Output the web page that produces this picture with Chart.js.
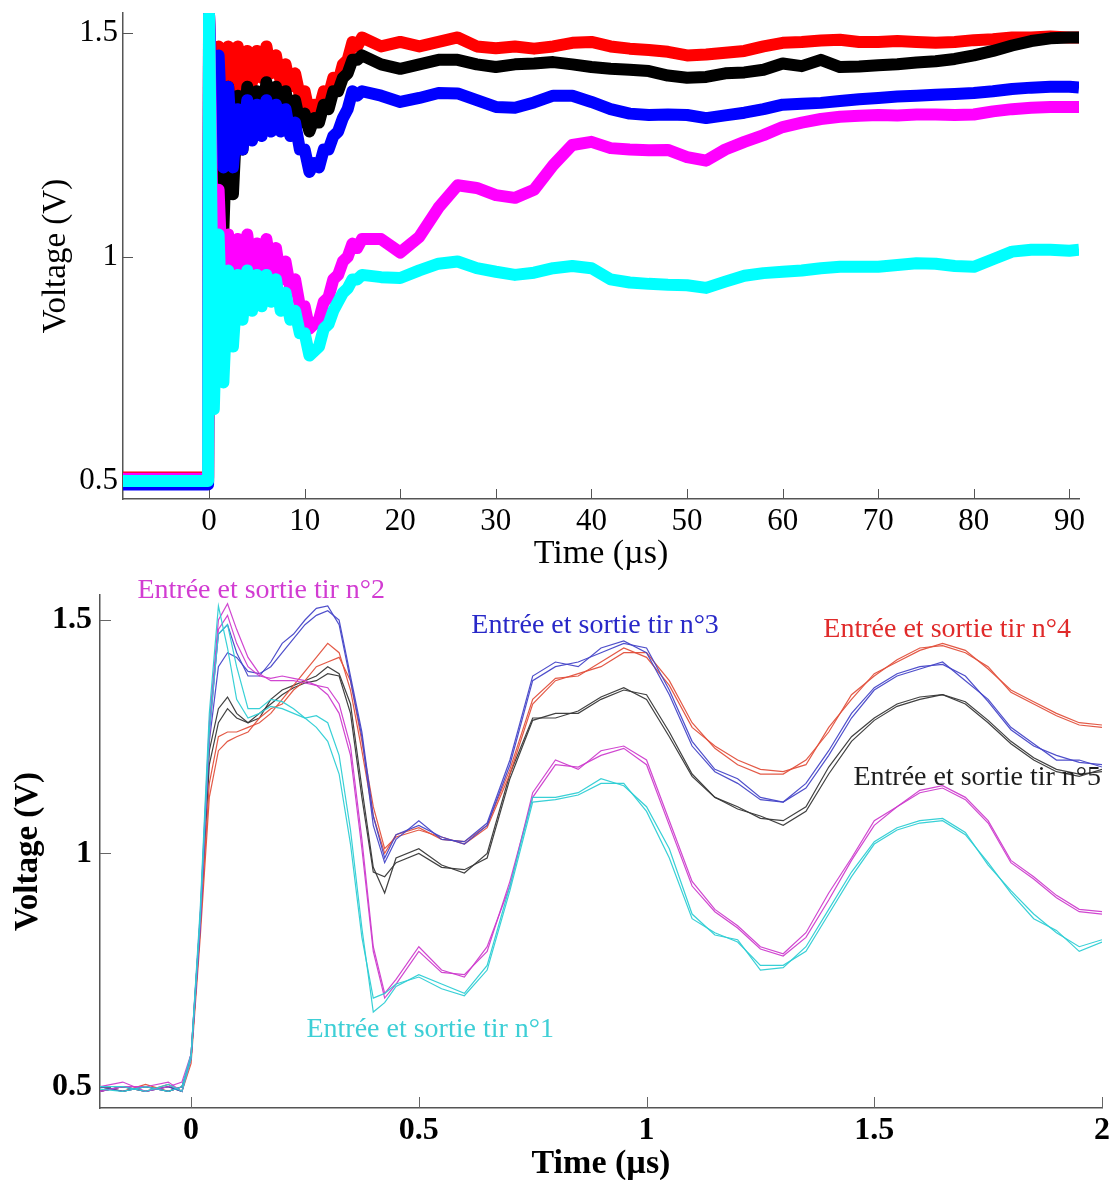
<!DOCTYPE html>
<html><head><meta charset="utf-8">
<script src="https://cdn.jsdelivr.net/npm/chart.js@4.4.0/dist/chart.umd.min.js"></script>
<style>
html,body{margin:0;padding:0;background:#fff;}
#wrap{position:relative;width:1117px;height:1180px;overflow:hidden;background:#fff;}
#c1{position:absolute;left:0;top:0;}
#c2{position:absolute;left:0;top:570px;}
</style></head><body>
<div id="wrap"><canvas id="c1" width="1117" height="570"></canvas><canvas id="c2" width="1117" height="610"></canvas></div>
<script>
// ---------- TOP PANEL DATA (time in µs, voltage in V) ----------
const TOP_T = [-9,-8,-7,-6,-5,-4,-3,-2,-1,-0.1,
  0,0.5,1,1.5,2,2.5,3,3.5,4,4.5,5,5.5,6,6.5,7,7.5,8,8.5,9,9.5,10,10.5,11,11.5,12,12.5,13,13.5,14,14.5,15,15.5,16,
  18,20,22,24,26,28,30,32,34,36,38,40,42,44,46,48,50,52,54,56,58,60,62,64,66,68,70,72,74,76,78,80,82,84,86,88,90,91];
const TOP_RED = [0.508,0.508,0.508,0.508,0.508,0.508,0.508,0.508,0.508,0.508,
  1.54,1.20,1.47,1.17,1.47,1.30,1.47,1.36,1.46,1.39,1.46,1.40,1.47,1.41,1.45,1.39,1.43,1.38,1.41,1.36,1.37,1.32,1.34,1.33,1.37,1.36,1.40,1.39,1.43,1.44,1.48,1.47,1.49,
  1.47,1.48,1.47,1.48,1.49,1.47,1.466,1.47,1.465,1.47,1.478,1.48,1.47,1.465,1.462,1.458,1.45,1.452,1.456,1.46,1.47,1.478,1.48,1.483,1.485,1.48,1.48,1.482,1.48,1.478,1.48,1.484,1.486,1.49,1.49,1.492,1.49,1.49];
const TOP_BLACK = [0.498,0.498,0.498,0.498,0.498,0.498,0.498,0.498,0.498,0.498,
  1.50,1.10,1.40,1.06,1.38,1.14,1.36,1.24,1.38,1.28,1.37,1.30,1.39,1.32,1.38,1.31,1.37,1.31,1.35,1.30,1.32,1.28,1.31,1.30,1.34,1.33,1.37,1.37,1.40,1.41,1.44,1.44,1.45,
  1.43,1.42,1.43,1.44,1.44,1.43,1.424,1.43,1.432,1.435,1.43,1.424,1.42,1.418,1.415,1.405,1.40,1.402,1.41,1.412,1.418,1.432,1.426,1.44,1.424,1.425,1.428,1.43,1.434,1.437,1.442,1.45,1.46,1.472,1.482,1.488,1.49,1.49];
const TOP_BLUE = [0.492,0.492,0.492,0.492,0.492,0.492,0.492,0.492,0.492,0.492,
  1.54,1.25,1.45,1.20,1.38,1.20,1.33,1.24,1.35,1.26,1.34,1.27,1.35,1.28,1.34,1.28,1.33,1.27,1.30,1.24,1.24,1.19,1.21,1.20,1.24,1.24,1.27,1.28,1.31,1.33,1.37,1.36,1.37,
  1.36,1.346,1.355,1.366,1.365,1.35,1.335,1.333,1.345,1.36,1.36,1.346,1.33,1.32,1.317,1.318,1.317,1.31,1.316,1.322,1.33,1.34,1.342,1.344,1.348,1.352,1.355,1.358,1.36,1.362,1.364,1.366,1.37,1.375,1.378,1.38,1.38,1.378];
const TOP_MAGENTA = [0.505,0.505,0.505,0.505,0.505,0.505,0.505,0.505,0.505,0.505,
  1.54,0.90,1.15,0.88,1.05,0.90,1.04,0.94,1.05,0.96,1.03,0.97,1.04,0.97,1.02,0.95,0.99,0.93,0.95,0.89,0.89,0.84,0.85,0.86,0.90,0.91,0.95,0.96,0.99,1.00,1.03,1.02,1.04,
  1.04,1.01,1.045,1.11,1.16,1.154,1.138,1.132,1.15,1.205,1.25,1.257,1.243,1.24,1.238,1.239,1.223,1.215,1.24,1.257,1.272,1.29,1.30,1.308,1.313,1.315,1.317,1.316,1.318,1.318,1.317,1.318,1.325,1.33,1.333,1.335,1.335,1.335];
const TOP_CYAN = [0.500,0.500,0.500,0.500,0.500,0.500,0.500,0.500,0.500,0.500,
  1.54,0.66,1.05,0.72,0.97,0.80,0.96,0.86,0.97,0.88,0.96,0.89,0.96,0.90,0.95,0.88,0.92,0.86,0.88,0.83,0.83,0.78,0.79,0.80,0.84,0.85,0.88,0.90,0.92,0.93,0.95,0.95,0.96,
  0.955,0.953,0.97,0.985,0.99,0.975,0.967,0.96,0.965,0.975,0.98,0.975,0.95,0.943,0.94,0.938,0.937,0.931,0.945,0.958,0.964,0.967,0.97,0.975,0.978,0.978,0.978,0.982,0.986,0.985,0.98,0.978,0.995,1.012,1.016,1.016,1.014,1.016];
const TOP_X_TICKS = [0,10,20,30,40,50,60,70,80,90];
const TOP_Y_TICKS = [0.5,1,1.5];

// ---------- BOTTOM PANEL DATA ----------
const BOT_T = [-0.2,-0.15,-0.1,-0.05,-0.02,0,0.02,0.04,0.06,0.08,0.1,0.125,0.15,0.175,0.2,0.225,0.25,0.275,0.3,0.325,0.35,0.375,0.4,0.425,0.45,
  0.5,0.55,0.6,0.65,0.7,0.75,0.8,0.85,0.9,0.95,1.0,1.05,1.1,1.15,1.2,1.25,1.3,1.35,1.4,1.45,1.5,1.55,1.6,1.65,1.7,1.75,1.8,1.85,1.9,1.95,2.0];
const TIR1_IN  = [0.495,0.49,0.50,0.49,0.50,0.57,0.88,1.30,1.53,1.44,1.33,1.29,1.30,1.315,1.31,1.30,1.29,1.295,1.28,1.21,1.05,0.84,0.66,0.68,0.715,
  0.74,0.72,0.70,0.76,0.93,1.12,1.12,1.13,1.16,1.145,1.10,1.01,0.87,0.825,0.815,0.75,0.755,0.80,0.88,0.96,1.025,1.055,1.07,1.075,1.045,0.975,0.92,0.87,0.83,0.80,0.815];
const TIR1_OUT = [0.50,0.50,0.49,0.505,0.49,0.56,0.86,1.26,1.47,1.49,1.40,1.31,1.31,1.33,1.325,1.31,1.29,1.27,1.24,1.17,1.02,0.82,0.69,0.70,0.72,
  0.735,0.71,0.695,0.75,0.92,1.11,1.115,1.125,1.15,1.15,1.09,0.99,0.86,0.83,0.81,0.76,0.76,0.79,0.87,0.95,1.02,1.05,1.065,1.07,1.04,0.98,0.915,0.86,0.835,0.79,0.81];
const TIR2_IN  = [0.50,0.51,0.49,0.50,0.51,0.57,0.87,1.28,1.50,1.535,1.48,1.42,1.385,1.37,1.37,1.37,1.365,1.36,1.355,1.32,1.23,1.03,0.80,0.70,0.73,
  0.80,0.75,0.735,0.80,0.93,1.13,1.20,1.18,1.22,1.23,1.20,1.07,0.94,0.88,0.845,0.80,0.785,0.83,0.915,0.99,1.07,1.10,1.135,1.145,1.12,1.07,0.985,0.95,0.91,0.88,0.875];
const TIR2_OUT = [0.49,0.50,0.50,0.51,0.49,0.56,0.85,1.25,1.48,1.51,1.45,1.40,1.38,1.375,1.38,1.375,1.37,1.36,1.34,1.30,1.21,1.01,0.79,0.69,0.72,
  0.79,0.745,0.74,0.79,0.94,1.12,1.19,1.185,1.21,1.225,1.19,1.06,0.93,0.875,0.84,0.795,0.78,0.82,0.90,0.985,1.06,1.10,1.13,1.14,1.115,1.065,0.98,0.945,0.905,0.875,0.87];
const TIR3_IN  = [0.49,0.50,0.49,0.50,0.49,0.57,0.86,1.27,1.47,1.49,1.43,1.38,1.38,1.41,1.45,1.47,1.50,1.525,1.53,1.49,1.37,1.25,1.06,0.98,1.03,
  1.07,1.03,1.025,1.065,1.20,1.38,1.41,1.40,1.44,1.455,1.43,1.34,1.23,1.175,1.15,1.115,1.11,1.15,1.22,1.30,1.355,1.385,1.40,1.405,1.38,1.325,1.265,1.23,1.21,1.195,1.19];
const TIR3_OUT = [0.50,0.49,0.50,0.49,0.50,0.56,0.84,1.24,1.40,1.43,1.42,1.39,1.385,1.40,1.43,1.46,1.49,1.51,1.52,1.50,1.38,1.26,1.08,0.99,1.04,
  1.06,1.035,1.02,1.06,1.19,1.37,1.40,1.41,1.43,1.45,1.44,1.35,1.24,1.18,1.16,1.12,1.11,1.14,1.21,1.29,1.35,1.38,1.395,1.41,1.37,1.33,1.27,1.235,1.20,1.20,1.185];
const TIR4_IN  = [0.50,0.49,0.505,0.49,0.50,0.56,0.84,1.15,1.25,1.26,1.26,1.27,1.28,1.30,1.33,1.36,1.39,1.42,1.45,1.43,1.35,1.22,1.08,1.00,1.04,
  1.055,1.03,1.025,1.06,1.18,1.33,1.375,1.38,1.41,1.44,1.42,1.36,1.27,1.23,1.20,1.18,1.175,1.19,1.27,1.33,1.385,1.41,1.435,1.45,1.435,1.395,1.35,1.325,1.30,1.28,1.275];
const TIR4_OUT = [0.49,0.50,0.49,0.505,0.49,0.55,0.82,1.12,1.22,1.24,1.25,1.26,1.29,1.31,1.32,1.35,1.37,1.40,1.41,1.42,1.37,1.24,1.10,1.01,1.035,
  1.05,1.035,1.02,1.055,1.17,1.32,1.37,1.385,1.40,1.43,1.43,1.37,1.28,1.225,1.19,1.17,1.17,1.20,1.26,1.34,1.38,1.415,1.44,1.445,1.43,1.40,1.345,1.32,1.295,1.275,1.27];
const TIR5_IN  = [0.49,0.50,0.49,0.50,0.49,0.57,0.86,1.22,1.31,1.335,1.30,1.28,1.29,1.33,1.35,1.36,1.37,1.38,1.40,1.385,1.32,1.14,0.97,0.915,0.99,
  1.01,0.975,0.958,1.00,1.17,1.29,1.29,1.305,1.335,1.355,1.33,1.25,1.165,1.12,1.10,1.075,1.07,1.10,1.185,1.25,1.29,1.32,1.335,1.34,1.32,1.28,1.235,1.20,1.175,1.165,1.18];
const TIR5_OUT = [0.50,0.49,0.50,0.49,0.50,0.56,0.85,1.19,1.28,1.31,1.29,1.28,1.30,1.32,1.34,1.355,1.365,1.37,1.385,1.38,1.30,1.12,0.96,0.95,0.98,
  1.00,0.97,0.965,0.99,1.16,1.285,1.30,1.30,1.33,1.35,1.34,1.26,1.17,1.12,1.095,1.08,1.06,1.09,1.17,1.24,1.285,1.315,1.33,1.34,1.325,1.285,1.24,1.205,1.18,1.17,1.175];
const BOT_X_TICKS = [0,0.5,1,1.5,2];
const BOT_Y_TICKS = [0.5,1,1.5];
const SHOT_LABELS = ["Entrée et sortie tir n°1","Entrée et sortie tir n°2","Entrée et sortie tir n°3","Entrée et sortie tir n°4","Entrée et sortie tir n°5"];

// ---------- helpers ----------
const SERIF = '"Liberation Serif","Times New Roman",serif';
Chart.defaults.color = '#000';
Chart.defaults.font.family = SERIF;
const pts = (xs, ys) => xs.map((x, i) => ({x: x, y: ys[i]}));

const inwardTicks = {
  id: 'inwardTicks',
  beforeDatasetsDraw(chart, args, opts) {
    const ctx = chart.ctx, a = chart.chartArea, len = opts.length || 10;
    ctx.save();
    ctx.strokeStyle = opts.color || '#555';
    ctx.lineWidth = 1;
    const xs = chart.scales.x, ys = chart.scales.y;
    xs.ticks.forEach(t => {
      const p = Math.round(xs.getPixelForValue(t.value)) + 0.5;
      ctx.beginPath(); ctx.moveTo(p, a.bottom); ctx.lineTo(p, a.bottom - len); ctx.stroke();
    });
    ys.ticks.forEach(t => {
      const p = Math.round(ys.getPixelForValue(t.value)) + 0.5;
      ctx.beginPath(); ctx.moveTo(a.left, p); ctx.lineTo(a.left + len, p); ctx.stroke();
    });
    ctx.restore();
  }
};

const shotLabels = {
  id: 'shotLabels',
  afterDatasetsDraw(chart, args, opts) {
    if (!opts.items) return;
    const ctx = chart.ctx;
    ctx.save();
    ctx.font = opts.font;
    ctx.textAlign = 'center';
    ctx.textBaseline = 'middle';
    opts.items.forEach(it => {
      ctx.fillStyle = it.color;
      ctx.fillText(it.text, chart.scales.x.getPixelForValue(it.x), chart.scales.y.getPixelForValue(it.y));
    });
    ctx.restore();
  }
};

// ---------- TOP CHART ----------
function topSet(label, ys, color, order) {
  return {label, data: pts(TOP_T, ys), borderColor: color, backgroundColor: color,
    borderWidth: 12, pointRadius: 0, tension: 0, order, clip: 0,
    borderJoinStyle: 'round', borderCapStyle: 'butt'};
}
new Chart(document.getElementById('c1'), {
  type: 'line',
  data: {datasets: [
    topSet('Cyan', TOP_CYAN, '#00ffff', 0),
    topSet('Magenta', TOP_MAGENTA, '#ff00ff', 1),
    topSet('Blue', TOP_BLUE, '#0000ff', 2),
    topSet('Black', TOP_BLACK, '#000000', 3),
    topSet('Red', TOP_RED, '#ff0000', 4)
  ]},
  options: {
    responsive: false, animation: false, devicePixelRatio: 1,
    layout: {padding: {top: 13, right: 38, left: 0, bottom: 0}},
    plugins: {legend: {display: false}, tooltip: {enabled: false},
      inwardTicks: {length: 10, color: '#555'}, shotLabels: {}},
    scales: {
      x: {type: 'linear', min: -9, max: 91,
        grid: {display: false, drawTicks: false},
        border: {display: true, color: '#555', width: 1.5},
        ticks: {font: {size: 31}, padding: 4, maxRotation: 0, callback: v => String(v)},
        afterBuildTicks: s => { s.ticks = TOP_X_TICKS.map(v => ({value: v})); },
        afterFit: s => { s.height = 71; s.paddingLeft = 0; s.paddingRight = 0; },
        title: {display: true, text: 'Time (µs)', font: {size: 34, lineHeight: 0.95}, padding: {top: 0, bottom: 0}}
      },
      y: {type: 'linear', min: 0.4598, max: 1.5446,
        grid: {display: false, drawTicks: false},
        border: {display: true, color: '#555', width: 1.5},
        ticks: {font: {size: 31}, padding: 5, callback: v => String(v)},
        afterBuildTicks: s => { s.ticks = TOP_Y_TICKS.map(v => ({value: v})); },
        afterFit: s => { s.width = 123; s.paddingTop = 0; s.paddingBottom = 0; },
        title: {display: true, text: 'Voltage (V)', font: {size: 33, lineHeight: 1.2}, padding: {top: 37, bottom: 0}}
      }
    }
  },
  plugins: [inwardTicks, shotLabels]
});

// ---------- BOTTOM CHART ----------
function botSet(label, ys, color) {
  return {label, data: pts(BOT_T, ys), borderColor: color, backgroundColor: color,
    borderWidth: 1.2, pointRadius: 0, tension: 0};
}
const C1 = 'rgba(45,205,212,0.95)', C2 = 'rgba(205,60,205,0.95)', C3 = 'rgba(70,70,200,0.95)', C4 = 'rgba(225,80,60,0.95)', C5 = 'rgba(55,55,55,0.95)';
new Chart(document.getElementById('c2'), {
  type: 'line',
  data: {datasets: [
    botSet('Tir 1 entrée', TIR1_IN, C1), botSet('Tir 1 sortie', TIR1_OUT, C1),
    botSet('Tir 2 entrée', TIR2_IN, C2), botSet('Tir 2 sortie', TIR2_OUT, C2),
    botSet('Tir 3 entrée', TIR3_IN, C3), botSet('Tir 3 sortie', TIR3_OUT, C3),
    botSet('Tir 4 entrée', TIR4_IN, C4), botSet('Tir 4 sortie', TIR4_OUT, C4),
    botSet('Tir 5 entrée', TIR5_IN, C5), botSet('Tir 5 sortie', TIR5_OUT, C5)
  ]},
  options: {
    responsive: false, animation: false, devicePixelRatio: 1,
    layout: {padding: {top: 25, right: 15, left: 0, bottom: 0}},
    plugins: {legend: {display: false}, tooltip: {enabled: false},
      inwardTicks: {length: 11, color: '#666'},
      shotLabels: {font: '28px ' + SERIF, items: [
        {text: SHOT_LABELS[1], x: 0.154, y: 1.564, color: '#d23cd2'},
        {text: SHOT_LABELS[2], x: 0.887, y: 1.489, color: '#2828c8'},
        {text: SHOT_LABELS[3], x: 1.660, y: 1.479, color: '#e02a2a'},
        {text: SHOT_LABELS[4], x: 1.726, y: 1.162, color: '#1e1e1e'},
        {text: SHOT_LABELS[0], x: 0.525, y: 0.622, color: '#3ecfd6'}
      ]}},
    scales: {
      x: {type: 'linear', min: -0.2, max: 2,
        grid: {display: false, drawTicks: false},
        border: {display: true, color: '#555', width: 1.5},
        ticks: {font: {size: 32, weight: 'bold'}, padding: 4, maxRotation: 0, callback: v => String(v)},
        afterBuildTicks: s => { s.ticks = BOT_X_TICKS.map(v => ({value: v})); },
        afterFit: s => { s.height = 72; s.paddingLeft = 0; s.paddingRight = 0; },
        title: {display: true, text: 'Time (µs)', font: {size: 34, weight: 'bold', lineHeight: 0.9}, padding: {top: 0, bottom: 0}}
      },
      y: {type: 'linear', min: 0.4544, max: 1.5536,
        grid: {display: false, drawTicks: false},
        border: {display: true, color: '#555', width: 1.5},
        ticks: {font: {size: 32, weight: 'bold'}, padding: 8, callback: v => String(v)},
        afterBuildTicks: s => { s.ticks = BOT_Y_TICKS.map(v => ({value: v})); },
        afterFit: s => { s.width = 100; s.paddingTop = 0; s.paddingBottom = 0; },
        title: {display: true, text: 'Voltage (V)', font: {size: 33, weight: 'bold', lineHeight: 1.2}, padding: {top: 9, bottom: 0}}
      }
    }
  },
  plugins: [inwardTicks, shotLabels]
});
</script>
</body></html>
